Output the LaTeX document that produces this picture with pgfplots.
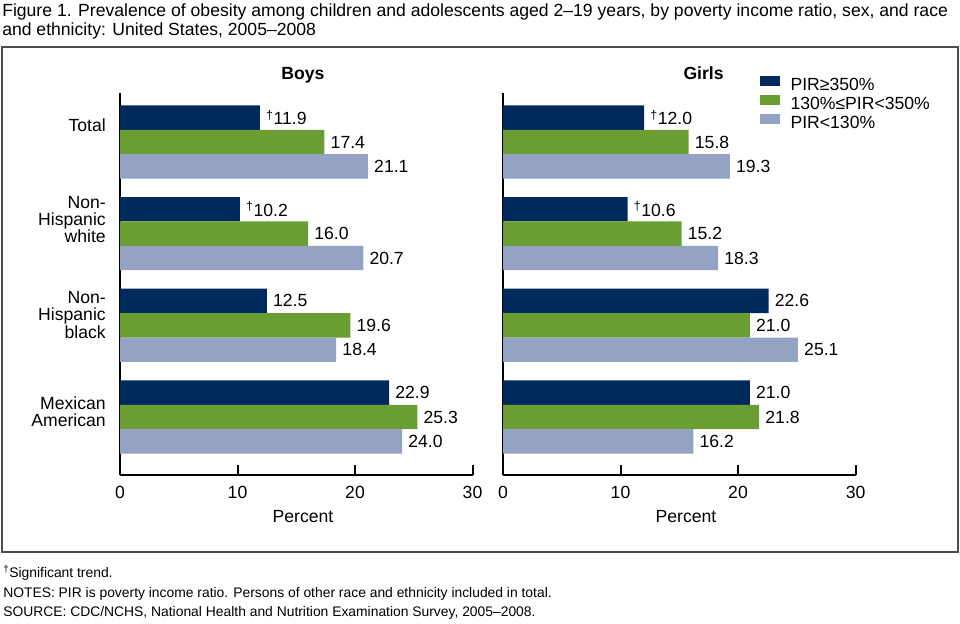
\documentclass[border=0pt]{standalone}
\usepackage{fontspec}
\setmainfont{Liberation Sans}
\usepackage{pgfplots}
\pgfplotsset{compat=1.18}

\definecolor{pirhigh}{RGB}{0,42,92}
\definecolor{pirmid}{RGB}{107,158,50}
\definecolor{pirlow}{RGB}{148,163,196}

\newcommand\lab{\fontsize{13.2}{13}\selectfont}

\pgfplotsset{
  panel/.style={
    xbar, scale only axis,
    width=264.4pt, height=286.5pt,
    xmin=0, xmax=30,
    ymin=-0.5345, ymax=3.633, y dir=reverse,
    axis lines=left,
    axis line style={-, line width=1.5pt},
    clip=false,
    bar width=0.266,
    font=\lab,
    xtick={0,10,20,30},
    tick align=inside,
    major tick length=7.5pt,
    x tick style={line width=1.5pt, black},
    y tick style={draw=none},
    xticklabel style={inner sep=0pt, anchor=north, yshift=-8pt},
    /pgf/number format/assume math mode=true,
    ytick={-0.18,0.845,1.887,2.945},
    xlabel={Percent},
    xlabel style={at={(axis description cs:0.519,0)}, anchor=north,
      inner sep=0pt, yshift=-26.5pt},
    title style={anchor=base, inner sep=0pt, font=\lab\bfseries},
    point meta=explicit symbolic,
    nodes near coords={\pgfplotspointmeta},
    every node near coord/.append style={anchor=west, inner sep=0pt,
      xshift=4.5pt, font=\lab, black},
  },
}

\begin{document}
\begin{tikzpicture}
\begin{scope}[x=0.75pt, y=-0.75pt]
  \useasboundingbox (0,0) rectangle (960,624);
  \node[anchor=base west, inner sep=0pt, font=\fontsize{13.2}{14}\selectfont] at (2,17)
    {Figure 1. Prevalence of obesity among children and adolescents aged 2–19 years, by poverty income ratio, sex, and race};
  \node[anchor=base west, inner sep=0pt, font=\fontsize{13.2}{14}\selectfont] at (2,36)
    {and ethnicity: United States, 2005–2008};
  \draw[black!70, line width=1.2pt] (2,47) rectangle (958,552);
  \node[anchor=base west, inner sep=0pt, font=\fontsize{10.4}{11}\selectfont] at (3,577)
    {\textsuperscript{†}Significant trend.};
  \node[anchor=base west, inner sep=0pt, font=\fontsize{10.4}{11}\selectfont] at (3,597)
    {NOTES: PIR is poverty income ratio. Persons of other race and ethnicity included in total.};
  \node[anchor=base west, inner sep=0pt, font=\fontsize{10.4}{11}\selectfont] at (3,616)
    {SOURCE: CDC/NCHS, National Health and Nutrition Examination Survey, 2005–2008.};
\end{scope}

% Boys
\begin{axis}[panel,
    at={(90pt,-356.25pt)}, anchor=south west,
    title={Boys},
    title style={at={(axis description cs:0.519,1)}, yshift=4.2pt},
    yticklabels={Total,{Non-\\Hispanic\\white},{Non-\\Hispanic\\black},{Mexican\\American}},
    yticklabel style={align=right, inner sep=0pt, xshift=-10.5pt, font=\lab},
  ]
  \addplot[fill=pirhigh, draw=none, bar shift=-0.266] coordinates {
    (11.9,0) [\textsuperscript{†}11.9]
    (10.2,1) [\textsuperscript{†}10.2]
    (12.5,2) [12.5]
    (22.9,3) [22.9]
  };
  \addplot[fill=pirmid, draw=none, bar shift=0] coordinates {
    (17.4,0) [17.4]
    (16.0,1) [16.0]
    (19.6,2) [19.6]
    (25.3,3) [25.3]
  };
  \addplot[fill=pirlow, draw=none, bar shift=0.266] coordinates {
    (21.1,0) [21.1]
    (20.7,1) [20.7]
    (18.4,2) [18.4]
    (24.0,3) [24.0]
  };
\end{axis}

% Girls
\begin{axis}[panel,
    at={(377.25pt,-356.25pt)}, anchor=south west,
    title={Girls},
    title style={at={(axis description cs:0.569,1)}, yshift=4.2pt},
    yticklabels={},
    legend cell align=left,
    legend style={at={(0.727,1.047)}, anchor=north west, draw=none, fill=none,
      inner sep=0pt, row sep=-3pt, column sep=0pt,
      nodes={inner sep=0pt, text height=9.6pt, text depth=5.8pt, font=\lab}},
    legend image code/.code={\path (0pt,-5.8pt) (23.25pt,9.6pt);
      \fill[#1] (0pt,1.5pt) rectangle (15pt,9pt);},
  ]
  \addplot[fill=pirhigh, draw=none, bar shift=-0.266] coordinates {
    (12.0,0) [\textsuperscript{†}12.0]
    (10.6,1) [\textsuperscript{†}10.6]
    (22.6,2) [22.6]
    (21.0,3) [21.0]
  };
  \addplot[fill=pirmid, draw=none, bar shift=0] coordinates {
    (15.8,0) [15.8]
    (15.2,1) [15.2]
    (21.0,2) [21.0]
    (21.8,3) [21.8]
  };
  \addplot[fill=pirlow, draw=none, bar shift=0.266] coordinates {
    (19.3,0) [19.3]
    (18.3,1) [18.3]
    (25.1,2) [25.1]
    (16.2,3) [16.2]
  };
  \legend{PIR≥350\%, 130\%≤PIR<350\%, PIR<130\%}
\end{axis}
\end{tikzpicture}
\end{document}
